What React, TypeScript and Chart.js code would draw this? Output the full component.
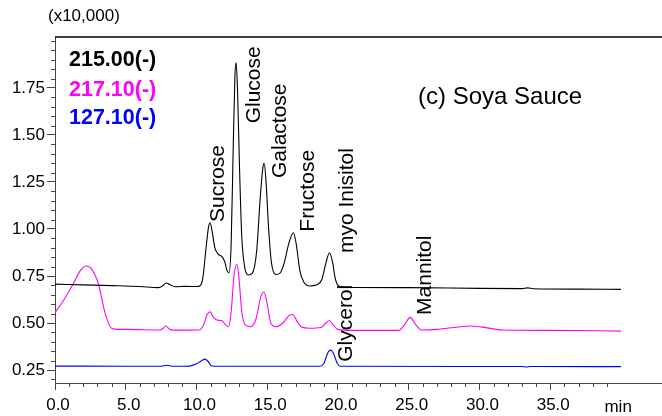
import React, { useEffect, useRef } from "react";
import { Chart, registerables } from "chart.js";

Chart.register(...registerables);

const FONT = '"Liberation Sans", Arial, sans-serif';

// ---- axis ticks ----
const xMajorTicks = [0, 5, 10, 15, 20, 25, 30, 35];
const xMinorTicks = [1, 2, 3, 4, 6, 7, 8, 9, 11, 12, 13, 14, 16, 17, 18, 19, 21, 22, 23, 24, 26, 27, 28, 29, 31, 32, 33, 34, 36, 37, 38, 39];
const yMajorTicks = [0.25, 0.5, 0.75, 1.0, 1.25, 1.5, 1.75];
const yMinorTicks = [0.2, 0.3, 0.35, 0.4, 0.45, 0.55, 0.6, 0.65, 0.7, 0.8, 0.85, 0.9, 0.95, 1.05, 1.1, 1.15, 1.2, 1.3, 1.35, 1.4, 1.45, 1.55, 1.6, 1.65, 1.7, 1.8, 1.85, 1.9, 1.95, 2.0];
const xUnitLabel = "min";
const xUnitPos = 39.8;
const yUnitLabel = "(x10,000)";

// ---- series: 215.00(-) (black) ----
const t215 = [0, 2, 4, 6, 7.3, 7.6, 7.85, 8.1, 8.5, 9.2, 10.0, 10.25, 10.45, 10.65, 10.85, 10.96, 11.1, 11.3, 11.55, 11.8, 12.0, 12.15, 12.3, 12.45, 12.6, 12.72, 12.8, 12.9, 13.05, 13.2, 13.4, 13.65, 13.95, 14.25, 14.5, 14.68, 14.78, 14.9, 15.1, 15.3, 15.6, 15.9, 16.2, 16.55, 16.85, 17.05, 17.3, 17.6, 18.0, 18.5, 18.85, 19.15, 19.4, 19.6, 19.8, 20.0, 20.4, 25, 30, 33.0, 33.4, 33.8, 37, 40];
const v215 = [0.707, 0.703, 0.699, 0.694, 0.688, 0.697, 0.713, 0.705, 0.693, 0.695, 0.694, 0.698, 0.74, 0.88, 1.01, 1.033, 0.99, 0.9, 0.865, 0.853, 0.825, 0.78, 0.768, 0.92, 1.45, 1.82, 1.885, 1.74, 1.3, 0.96, 0.8, 0.755, 0.765, 0.88, 1.16, 1.32, 1.349, 1.27, 1.0, 0.82, 0.758, 0.765, 0.82, 0.93, 0.98, 0.92, 0.78, 0.715, 0.697, 0.703, 0.73, 0.82, 0.874, 0.83, 0.74, 0.7, 0.69, 0.688, 0.684, 0.683, 0.687, 0.682, 0.68, 0.679];

// ---- series: 217.10(-) (magenta) ----
const t217 = [0, 0.6, 1.3, 1.8, 2.24, 2.6, 3.06, 3.54, 4.0, 4.5, 5.1, 7.4, 7.65, 7.83, 8.05, 8.3, 10.2, 10.5, 10.75, 10.96, 11.2, 11.5, 11.8, 12.05, 12.26, 12.45, 12.65, 12.85, 13.0, 13.2, 13.45, 13.8, 14.2, 14.55, 14.78, 15.0, 15.25, 15.6, 16.1, 16.55, 16.8, 17.1, 17.4, 18.0, 18.8, 19.15, 19.4, 19.65, 20.0, 21, 24.3, 24.7, 25.1, 25.5, 25.9, 27, 28.5, 29.35, 30.2, 31.7, 35, 40];
const v217 = [0.555, 0.62, 0.71, 0.78, 0.803, 0.785, 0.71, 0.553, 0.472, 0.466, 0.466, 0.463, 0.472, 0.484, 0.47, 0.462, 0.463, 0.49, 0.545, 0.56, 0.53, 0.515, 0.512, 0.49, 0.48, 0.56, 0.75, 0.814, 0.74, 0.56, 0.49, 0.48, 0.52, 0.64, 0.665, 0.6, 0.5, 0.48, 0.5, 0.54, 0.545, 0.51, 0.48, 0.472, 0.476, 0.5, 0.513, 0.49, 0.466, 0.461, 0.461, 0.49, 0.53, 0.49, 0.463, 0.466, 0.479, 0.484, 0.478, 0.463, 0.461, 0.457];

// ---- series: 127.10(-) (blue) ----
const t127 = [0, 5, 7.5, 7.9, 8.3, 9.5, 10.0, 10.3, 10.6, 10.8, 11.05, 11.5, 18.7, 19.0, 19.3, 19.5, 19.7, 19.95, 20.2, 33, 33.3, 33.6, 40];
const v127 = [0.271, 0.27, 0.27, 0.275, 0.27, 0.271, 0.283, 0.297, 0.308, 0.298, 0.273, 0.27, 0.27, 0.285, 0.345, 0.356, 0.335, 0.285, 0.27, 0.269, 0.266, 0.269, 0.268];

const seriesNames = ["215.00(-)", "217.10(-)", "127.10(-)"];
const seriesColors = ["#000000", "#ff00ff", "#0000ff"];

// ---- peak annotations (anchor = start of rotated text, in data units) ----
const peakNames = ["Sucrose", "Glucose", "Galactose", "Fructose", "myo Inisitol", "Glycerol", "Mannitol"];
const peakT = [11.53, 14.07, 15.91, 17.86, 20.63, 20.58, 26.17];
const peakV = [1.037, 1.562, 1.271, 0.986, 0.872, 0.294, 0.543];

const chartTitle = "(c) Soya Sauce";

const toPoints = (t: number[], v: number[]) => t.map((x, i) => ({ x, y: v[i] }));

const overlayPlugin = {
  id: "overlay",
  afterDraw(chart: any) {
    const ctx = chart.ctx as CanvasRenderingContext2D;
    const { left, right, top, bottom } = chart.chartArea;
    const xs = chart.scales.x;
    const ys = chart.scales.y;
    ctx.save();
    // top frame line
    ctx.strokeStyle = "#000";
    ctx.lineWidth = 1.5;
    ctx.beginPath();
    ctx.moveTo(left, top);
    ctx.lineTo(right, top);
    ctx.stroke();
    // minor ticks
    ctx.strokeStyle = "#444";
    ctx.lineWidth = 1;
    ctx.beginPath();
    xMinorTicks.forEach((t) => {
      const px = Math.round(xs.getPixelForValue(t)) + 0.5;
      ctx.moveTo(px, bottom);
      ctx.lineTo(px, bottom + 4);
    });
    yMinorTicks.forEach((v) => {
      const py = Math.round(ys.getPixelForValue(v)) + 0.5;
      ctx.moveTo(left - 4, py);
      ctx.lineTo(left, py);
    });
    ctx.stroke();
    // unit labels
    ctx.fillStyle = "#000";
    ctx.font = `17px ${FONT}`;
    ctx.textAlign = "center";
    ctx.textBaseline = "middle";
    ctx.fillText(xUnitLabel, xs.getPixelForValue(xUnitPos), bottom + 24);
    ctx.textAlign = "left";
    ctx.fillText(yUnitLabel, left - 7, top - 21);
    // legend
    ctx.font = `bold 21.5px ${FONT}`;
    const legY = [23, 53, 81];
    seriesNames.forEach((n, i) => {
      ctx.fillStyle = seriesColors[i];
      ctx.fillText(n, left + 14, top + legY[i]);
    });
    // title
    ctx.fillStyle = "#000";
    ctx.font = `24px ${FONT}`;
    ctx.fillText(chartTitle, left + 363, top + 60);
    // peak labels
    ctx.font = `21px ${FONT}`;
    peakNames.forEach((n, i) => {
      const px = xs.getPixelForValue(peakT[i]);
      const py = ys.getPixelForValue(peakV[i]);
      ctx.save();
      ctx.translate(px, py);
      ctx.rotate(-Math.PI / 2);
      ctx.textAlign = "left";
      ctx.textBaseline = "middle";
      ctx.fillText(n, 0, 0);
      ctx.restore();
    });
    ctx.restore();
  },
};

export default function App() {
  const canvasRef = useRef<HTMLCanvasElement | null>(null);

  useEffect(() => {
    document.body.style.margin = "0";
    const canvas = canvasRef.current;
    if (!canvas) return;
    const seriesT = [t215, t217, t127];
    const seriesV = [v215, v217, v127];
    const chart = new Chart(canvas, {
      type: "line",
      data: {
        datasets: seriesNames.map((name, i) => ({
          label: name,
          data: toPoints(seriesT[i], seriesV[i]),
          borderColor: seriesColors[i],
          borderWidth: 1.1,
          pointRadius: 0,
          fill: false,
          cubicInterpolationMode: "monotone" as const,
        })),
      },
      options: {
        responsive: false,
        animation: false,
        events: [],
        layout: { padding: { top: 37, right: 0, left: 0, bottom: 0 } },
        plugins: { legend: { display: false }, tooltip: { enabled: false }, title: { display: false } },
        scales: {
          x: {
            type: "linear",
            min: 0,
            max: 42.9,
            afterBuildTicks: (s: any) => {
              s.ticks = xMajorTicks.map((value) => ({ value }));
            },
            afterFit: (s: any) => {
              s.height = 33;
            },
            ticks: {
              autoSkip: false,
              maxRotation: 0,
              color: "#000",
              font: { family: FONT, size: 17 },
              padding: 5,
              labelOffset: 3,
              callback: (v: any) => Number(v).toFixed(1),
            },
            grid: { display: true, drawOnChartArea: false, drawTicks: true, tickLength: 7, color: "#444" },
            border: { display: true, color: "#444", width: 1 },
          },
          y: {
            type: "linear",
            min: 0.181,
            max: 2.021,
            afterBuildTicks: (s: any) => {
              s.ticks = yMajorTicks.map((value) => ({ value }));
            },
            afterFit: (s: any) => {
              s.width = 55;
            },
            ticks: {
              autoSkip: false,
              color: "#000",
              font: { family: FONT, size: 17 },
              padding: 2,
              callback: (v: any) => Number(v).toFixed(2),
            },
            grid: { display: true, drawOnChartArea: false, drawTicks: true, tickLength: 8, color: "#444" },
            border: { display: true, color: "#444", width: 1 },
          },
        },
      },
      plugins: [overlayPlugin],
    });
    return () => chart.destroy();
  }, []);

  return (
    <div style={{ position: "absolute", left: 0, top: 0, width: 662, height: 416, background: "#fff" }}>
      <canvas ref={canvasRef} width={662} height={416} style={{ display: "block" }} />
    </div>
  );
}
